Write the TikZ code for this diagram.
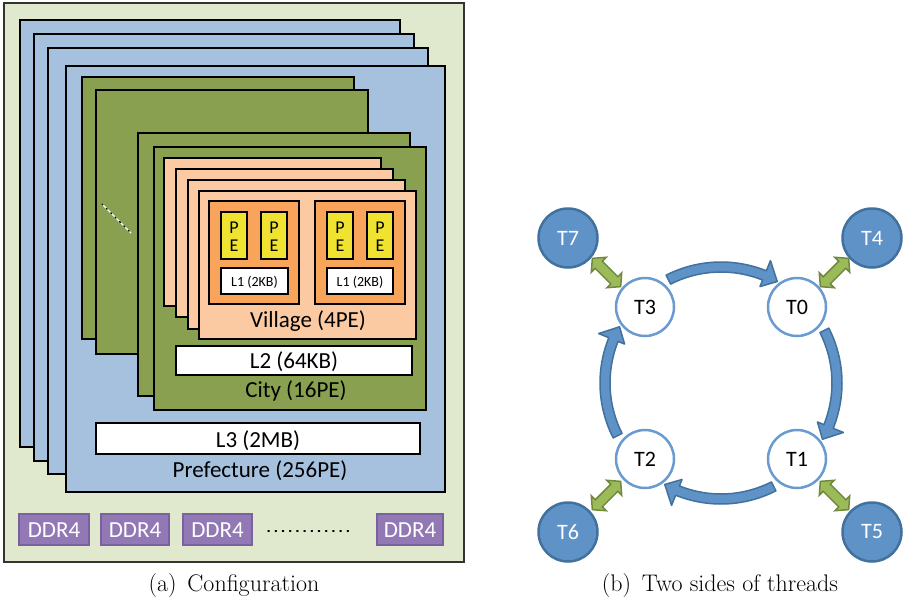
\documentclass[tikz,border=0pt]{standalone}
\usepackage{fontspec}
\newfontfamily\calfont{Carlito}
\usetikzlibrary{calc}
\definecolor{bgout}{HTML}{E0E8CD}
\definecolor{lblue}{HTML}{A6C1DE}
\definecolor{lgreen}{HTML}{88A04F}
\definecolor{peach}{HTML}{FBCAA2}
\definecolor{orng}{HTML}{F8A55B}
\definecolor{yel}{HTML}{EFE230}
\definecolor{purp}{HTML}{9279B5}
\definecolor{purpd}{HTML}{7A62A0}
\definecolor{tblue}{HTML}{5F93C8}
\definecolor{tblued}{HTML}{41719C}
\definecolor{ringc}{HTML}{6A9BD0}
\definecolor{dgreen}{HTML}{9BBB59}
\definecolor{dgreend}{HTML}{71893F}
\tikzset{
  layer/.style={draw=black, line width=2pt},
  lbl/.style={font=\calfont\fontsize{23}{27}\selectfont, inner sep=0pt, anchor=base},
  smalllbl/.style={font=\calfont\fontsize{14}{16}\selectfont, inner sep=0pt, anchor=base},
  pelbl/.style={font=\calfont\fontsize{18}{18}\selectfont, inner sep=0pt, anchor=base},
  ddrbox/.style={draw=purpd, line width=1.5pt, fill=purp},
  ddrlbl/.style={font=\calfont\fontsize{23}{27}\selectfont, text=white, inner sep=0pt, anchor=base},
  ringnode/.style={circle, draw=ringc, line width=2.5pt, fill=white, minimum size=58pt, inner sep=0pt, font=\calfont\fontsize{22}{26}\selectfont},
  outnode/.style={circle, draw=tblued, line width=2.5pt, fill=tblue, minimum size=59pt, inner sep=0pt, text=white, font=\calfont\fontsize{22}{26}\selectfont},
  ringarrow/.style={draw=tblued, line width=1.5pt, fill=tblue, line join=round},
  dblarrow/.style={draw=dgreend, line width=1.5pt, fill=dgreen, line join=miter},
  caplbl/.style={font=\fontsize{24}{28}\selectfont, inner sep=0pt, anchor=base}
}
\begin{document}
\begin{tikzpicture}[x=1pt,y=-1pt]
\useasboundingbox (0,0) rectangle (905,603);
% ---------- (a) Configuration ----------
\draw[draw=black!80, line width=1.5pt, fill=bgout] (4,3) rectangle (464,562);
% prefecture stack
\draw[layer, fill=lblue] (20,20) rectangle (400,447);
\draw[layer, fill=lblue] (34,34) rectangle (414,461);
\draw[layer, fill=lblue] (48,48) rectangle (428,474);
\draw[layer, fill=lblue] (66,66) rectangle (445,492);
% city stack
\draw[layer, fill=lgreen] (82,77) rectangle (354,339);
\draw[layer, fill=lgreen] (96,90) rectangle (368,354);
\draw[white, line width=1.4pt] (102,204) -- (131,233);
\draw[black, line width=1.4pt, dash pattern=on 1.2pt off 5pt, line cap=round] (102,204) -- (131,233);
\draw[layer, fill=lgreen] (138,133) rectangle (410,396);
\draw[layer, fill=lgreen] (154,147) rectangle (426,410);
% village stack
\draw[layer, fill=peach] (164,158) rectangle (381,306);
\draw[layer, fill=peach] (176,169) rectangle (393,317);
\draw[layer, fill=peach] (188,180) rectangle (405,329);
\draw[layer, fill=peach] (199,191) rectangle (416,339);
% cores
\draw[layer, fill=orng] (209,201) rectangle (299,304);
\draw[layer, fill=orng] (315,201) rectangle (405,304);
\foreach \xa/\nm in {221/a,261/b,327/c,367/d}{
  \draw[draw=black, line width=1.5pt, fill=yel] (\xa,212) rectangle ({\xa+26},259);
  \node[pelbl] (p\nm) at ({\xa+13},233) {P};
  \node[pelbl] (e\nm) at ({\xa+13},251) {E};
}
\draw[draw=black, line width=1.5pt, fill=white] (221,268) rectangle (288,294);
\node[smalllbl] (l1a) at (254.5,286) {L1 (2KB)};
\draw[draw=black, line width=1.5pt, fill=white] (327,268) rectangle (393,294);
\node[smalllbl] (l1b) at (360,286) {L1 (2KB)};
\node[lbl] (village) at (308,327) {Village (4PE)};
\draw[draw=black, line width=1.5pt, fill=white] (176,346) rectangle (412,375);
\node[lbl] (l2) at (294,368) {L2 (64KB)};
\node[lbl] (city) at (296,397) {City (16PE)};
\draw[draw=black, line width=1.5pt, fill=white] (96,423) rectangle (420,454);
\node[lbl] (l3) at (258,447) {L3 (2MB)};
\node[lbl] (pref) at (260,477) {Prefecture (256PE)};
% memory
\draw[ddrbox] (19,514) rectangle (89,545);
\node[ddrlbl] (d1) at (54,537) {DDR4};
\draw[ddrbox] (101,514) rectangle (169,545);
\node[ddrlbl] (d2) at (135,537) {DDR4};
\draw[ddrbox] (183,514) rectangle (252,545);
\node[ddrlbl] (d3) at (217.5,537) {DDR4};
\draw[ddrbox] (377,514) rectangle (443,545);
\node[ddrlbl] (d4) at (410,537) {DDR4};
\draw[black, line width=1.4pt, dash pattern=on 1.2pt off 6pt, line cap=round] (268,531) -- (354,531);
\node[caplbl] (capa) at (234,591) {(a)\hspace{0.45em}Configuration};
% ---------- (b) Two sides of threads ----------
\node[ringnode] (t3) at (645,307) {T3};
\node[ringnode] (t0) at (797,307) {T0};
\node[ringnode] (t1) at (797,459) {T1};
\node[ringnode] (t2) at (645,459) {T2};
\node[outnode] (t7) at (568,238) {T7};
\node[outnode] (t4) at (872,238) {T4};
\node[outnode] (t5) at (872,532) {T5};
\node[outnode] (t6) at (568,532) {T6};
\coordinate (ring) at ($(t3)!0.5!(t1)$);
\foreach \a/\b/\t in {-117/-68/-61, -27/22/29, 63/112/119, 153/202/209}{
  \draw[ringarrow] ($(ring)+(\a:121)$) arc[start angle=\a, end angle=\b, radius=121]
    -- ($(ring)+(\b:132)$) -- ($(ring)+(\t:116)$) -- ($(ring)+(\b:104)$)
    -- ($(ring)+(\b:111)$) arc[start angle=\b, end angle=\a, radius=111] -- cycle;
}
\foreach \u/\v/\r in {t7/t3/-45, t4/t0/45, t6/t2/45, t5/t1/-45}{
  \begin{scope}[shift={($(\u)!0.5!(\v)$)}, rotate=\r]
    \draw[dblarrow] (-20,0) -- (-11,10.5) -- (-11,5) -- (11,5) -- (11,10.5) -- (20,0)
      -- (11,-10.5) -- (11,-5) -- (-11,-5) -- (-11,-10.5) -- cycle;
  \end{scope}
}
\node[caplbl] (capb) at (720,591) {(b)\hspace{0.45em}Two sides of threads};
\end{tikzpicture}
\end{document}
